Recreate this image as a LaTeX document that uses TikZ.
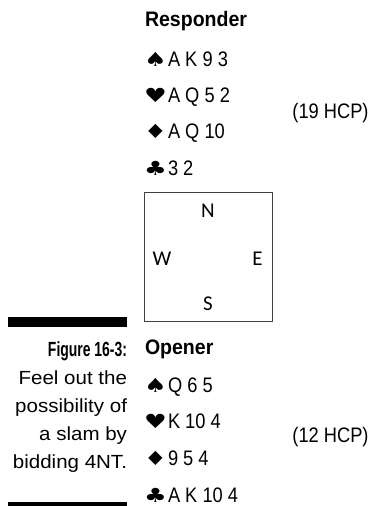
\documentclass[tikz,border=0pt]{standalone}
\usepackage{fontspec}
\setmainfont{Liberation Sans}[FakeStretch=0.87]
\newfontfamily\titlefont{Liberation Sans}[FakeStretch=0.93]
\newfontfamily\figfont{Liberation Sans}[FakeStretch=0.68]
\newfontfamily\capfont{Liberation Sans}[FakeStretch=1.08]
\newfontfamily\symfont{DejaVu Sans}[FakeStretch=1.3]
\newfontfamily\boxfont{Carlito}
\begin{document}
\begin{tikzpicture}[x=1pt,y=-1pt,
  every node/.style={inner sep=0pt,outer sep=0pt},
  hand/.style={anchor=base west,font=\fontsize{21}{21}\selectfont},
  suit/.style={anchor=base west,font=\symfont\fontsize{19.5}{19.5}\selectfont},
  title/.style={anchor=base west,font=\titlefont\bfseries\fontsize{21}{21}\selectfont},
  hcp/.style={anchor=center,font=\fontsize{21}{21}\selectfont},
  captext/.style={anchor=base east,font=\capfont\fontsize{19}{19}\selectfont},
  figtext/.style={anchor=base east,font=\figfont\bfseries\fontsize{20.5}{20.5}\selectfont},
  dir/.style={anchor=center,font=\boxfont\fontsize{21}{21}\selectfont},
  bar/.style={fill=black,draw=none}]
\useasboundingbox (0,0) rectangle (372,506);
% Responder
\node[title] (rt) at (145,27) {Responder};
\node[suit] (rs) at (144,66) {♠};
\node[hand] (rsh) at (168,66) {A K 9 3};
\node[suit] (rh) at (144,102) {♥};
\node[hand] (rhh) at (168,102) {A Q 5 2};
\node[suit] (rd) at (144,138) {♦};
\node[hand] (rdh) at (168,138) {A Q 10};
\node[suit] (rc) at (144,175) {♣};
\node[hand] (rch) at (168,175) {3 2};
\node[hcp] (rhcp) at (330.5,113) {(19 HCP)};
% Box
\draw[draw=black!75,line width=1pt] (144,192) rectangle (272,321);
\node[dir] (n) at (208,211) {N};
\node[dir] (w) at (162,259) {W};
\node[dir] (e) at (257.5,259) {E};
\node[dir] (s) at (208,304) {S};
% Opener
\node[title] (ot) at (145,354) {Opener};
\node[suit] (os) at (144,392) {♠};
\node[hand] (osh) at (168,392) {Q 6 5};
\node[suit] (oh) at (144,428) {♥};
\node[hand] (ohh) at (168,428) {K 10 4};
\node[suit] (od) at (144,465) {♦};
\node[hand] (odh) at (168,465) {9 5 4};
\node[suit] (oc) at (144,502) {♣};
\node[hand] (och) at (168,502) {A K 10 4};
\node[hcp] (ohcp) at (330.5,437) {(12 HCP)};
% Caption
\fill[bar] (8,317) rectangle (127,327);
\fill[bar] (8,502) rectangle (127,506);
\node[figtext] (c0) at (127,356) {Figure 16-3:};
\node[captext] (c1) at (127,384) {Feel out the};
\node[captext] (c2) at (127,412) {possibility of};
\node[captext] (c3) at (127,440) {a slam by};
\node[captext] (c4) at (127,468) {bidding 4NT.};
\end{tikzpicture}
\end{document}
